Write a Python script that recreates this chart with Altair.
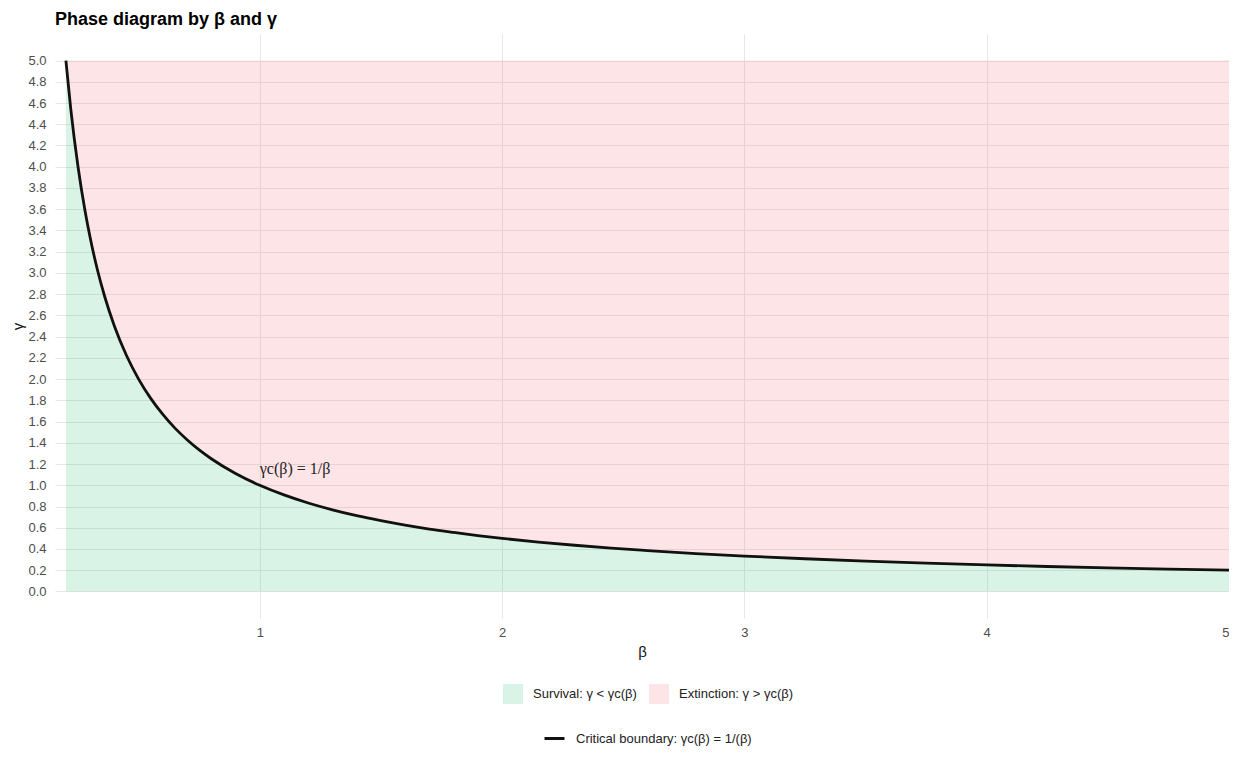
import altair as alt
import pandas as pd

# Critical boundary (gamma_c = 1/beta)
beta = [0.2, 0.22, 0.25, 0.28, 0.3, 0.33, 0.36, 0.4, 0.45, 0.5, 0.55, 0.6, 0.65, 0.7,
        0.75, 0.8, 0.9, 1.0, 1.1, 1.2, 1.3, 1.4, 1.5, 1.6, 1.7, 1.8, 1.9, 2.0, 2.15,
        2.3, 2.45, 2.6, 2.8, 3.0, 3.25, 3.5, 3.75, 4.0, 4.25, 4.5, 4.75, 5.0]
gamma = [5.0, 4.545, 4.0, 3.571, 3.333, 3.030, 2.778, 2.5, 2.222, 2.0, 1.818, 1.667,
         1.538, 1.429, 1.333, 1.25, 1.111, 1.0, 0.909, 0.833, 0.769, 0.714, 0.667, 0.625,
         0.588, 0.556, 0.526, 0.5, 0.465, 0.435, 0.408, 0.385, 0.357, 0.333, 0.308, 0.286,
         0.267, 0.25, 0.235, 0.222, 0.211, 0.2]
gamma_floor = 0.0
gamma_ceiling = 5.0

region_names = ["Survival: γ < γc(β)", "Extinction: γ > γc(β)"]
region_colors = ["#41c882", "#f57d87"]
boundary_name = "Critical boundary: γc(β) = 1/(β)"
annotation = ["γc(β) = 1/β"]
annotation_beta = [1.0]
annotation_gamma = [1.15]

y_ticks = [round(i * 0.2, 1) for i in range(26)]
x_ticks = [1, 2, 3, 4, 5]

rows = []
for b, g in zip(beta, gamma):
    rows.append({"beta": b, "lo": gamma_floor, "hi": g, "region": region_names[0]})
    rows.append({"beta": b, "lo": g, "hi": gamma_ceiling, "region": region_names[1]})
regions = pd.DataFrame(rows)
curve = pd.DataFrame({"beta": beta, "gamma": gamma, "boundary": boundary_name})
ann = pd.DataFrame({"beta": annotation_beta, "gamma": annotation_gamma, "label": annotation})

xs = alt.Scale(domain=[0.155, 5.0], nice=False, zero=False)
ys = alt.Scale(domain=[-0.25, 5.25], nice=False, zero=False)

x_axis = alt.Axis(values=x_ticks, format="d", title="β", grid=True, ticks=False, domain=False,
                  labelPadding=8, titlePadding=5, labelOverlap=False, tickCount=10)
y_axis = alt.Axis(values=y_ticks, format=".1f", title="γ", grid=True, ticks=False,
                  domain=False, labelPadding=9, titlePadding=2, labelOverlap=False,
                  tickCount=40)

area = alt.Chart(regions).mark_area(opacity=0.2, interpolate="monotone").encode(
    x=alt.X("beta:Q", scale=xs, axis=x_axis),
    y=alt.Y("lo:Q", scale=ys, axis=y_axis),
    y2="hi:Q",
    fill=alt.Fill("region:N",
                  scale=alt.Scale(domain=region_names, range=region_colors),
                  legend=alt.Legend(title=None, orient="none", legendX=448, legendY=650,
                                    direction="horizontal", symbolType="square",
                                    symbolSize=400, symbolOpacity=0.2, symbolStrokeWidth=0,
                                    labelFontSize=13, labelOffset=10, columnPadding=12,
                                    labelLimit=400)),
    detail="region:N",
)

line = alt.Chart(curve).mark_line(strokeWidth=2.8, interpolate="monotone").encode(
    x=alt.X("beta:Q", scale=xs),
    y=alt.Y("gamma:Q", scale=ys),
    stroke=alt.Stroke("boundary:N",
                      scale=alt.Scale(domain=[boundary_name], range=["#111111"]),
                      legend=alt.Legend(title=None, orient="none", legendX=488, legendY=693,
                                        symbolType="stroke", symbolSize=400,
                                        symbolStrokeWidth=3, labelFontSize=13,
                                        labelOffset=10, labelLimit=400)),
)

text = alt.Chart(ann).mark_text(align="left", baseline="middle", font="Liberation Serif",
                                fontSize=16, color="#222222").encode(
    x=alt.X("beta:Q", scale=xs),
    y=alt.Y("gamma:Q", scale=ys),
    text="label:N",
)

chart = alt.layer(area, line, text).properties(
    width=1174, height=584,
    title=alt.TitleParams("Phase diagram by β and γ", anchor="start", frame="group",
                          fontSize=18, fontWeight="bold", font="Liberation Sans",
                          color="#000000", offset=5),
    autosize=alt.AutoSizeParams(type="none"),
    padding={"left": 47, "top": 26, "right": 0, "bottom": 129},
).configure_view(stroke=None).configure_axis(
    gridColor="#e6e6e6", gridWidth=1, labelColor="#4d4d4d", labelFontSize=13,
    labelFont="Liberation Sans", titleFont="Liberation Sans", titleFontSize=15,
    titleFontWeight="normal", titleColor="#111111",
).configure_legend(labelFont="Liberation Sans", labelColor="#222222")

chart.save("out.html", embed_options={"renderer": "svg", "actions": False})
